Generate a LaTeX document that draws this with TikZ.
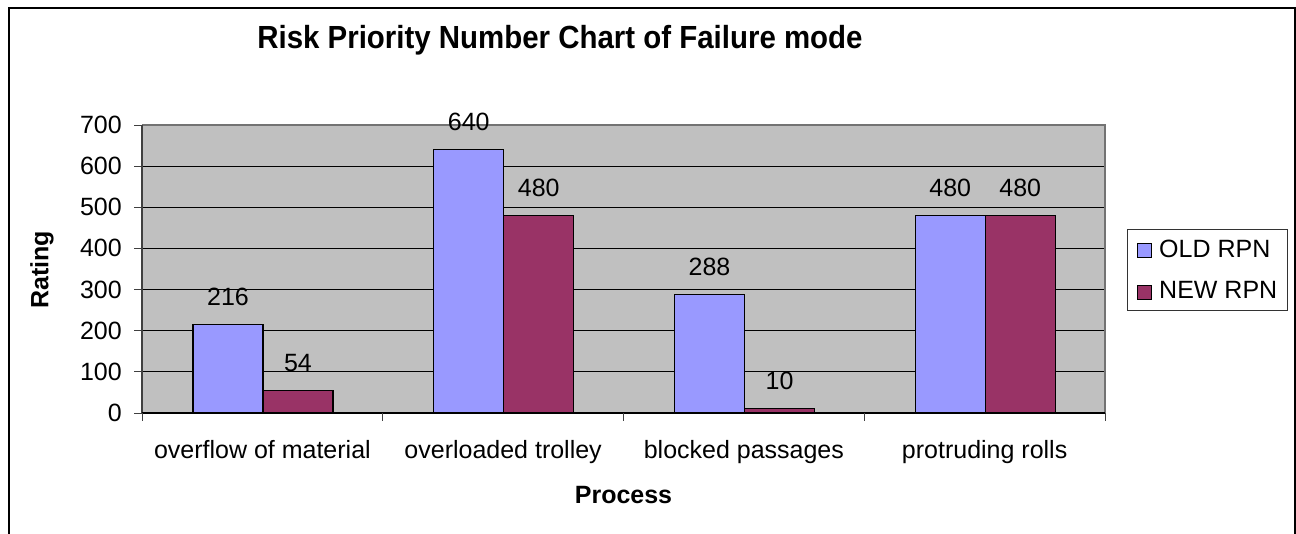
\documentclass[tikz,border=0pt]{standalone}
\usepackage{fontspec}
\setmainfont{Liberation Sans}
\usetikzlibrary{calc}

\definecolor{oldrpn}{HTML}{9999FF}
\definecolor{newrpn}{HTML}{993366}
\definecolor{plotbg}{HTML}{C0C0C0}

\begin{document}
\begin{tikzpicture}[x=1pt,y=-1pt,
		txt/.style={font=\fontsize{25}{30}\selectfont, inner sep=0pt},
		axtitle/.style={font=\fontsize{25}{30}\selectfont\bfseries, inner sep=0pt},
		bar/.style={draw=black, line width=1.2pt},
		grid line/.style={black, line width=0.9pt}]
		\useasboundingbox (0,0) rectangle (1296,533);
		% outer frame
		\draw[line width=1.6pt] (9,8) rectangle (1295,560);
		% plot area
		\fill[plotbg] (142,125) rectangle (1105,413);
		\foreach \v in {100,200,...,600}
			\draw[grid line] (142,{413-0.411429*\v}) -- (1105,{413-0.411429*\v});
		\draw[gray!90!black, line width=1.2pt] (142,125) -- (1105,125) -- (1105,413);
		\draw[black!75, line width=1.4pt] (142,125) -- (142,413);
		% y ticks
		\foreach \v in {0,100,...,700} {
			\draw[black!75, line width=1pt] (134,{413-0.411429*\v}) -- (142,{413-0.411429*\v});
			\node[txt, anchor=base east] (tick\v) at (122,{421.5-0.411429*\v}) {\v};
		}
		% bars
		\foreach \i/\o/\n in {0/216/54, 1/640/480, 2/288/10, 3/480/480} {
			\coordinate (g\i) at ({142+240.75*\i+51},413);
			\filldraw[bar, fill=oldrpn] (g\i) rectangle ++(70,{-0.411429*\o});
			\filldraw[bar, fill=newrpn] ($(g\i)+(70,0)$) rectangle ++(70,{-0.411429*\n});
			\node[txt, anchor=base] (old\i) at ($(g\i)+(35,{-0.411429*\o-19})$) {\o};
			\node[txt, anchor=base] (new\i) at ($(g\i)+(105,{-0.411429*\n-19})$) {\n};
		}
		% x axis and ticks
		\draw[black, line width=1.2pt] (142,413) -- (1105,413);
		\foreach \k in {0,...,4}
			\draw[black!75, line width=1pt] ({142+240.75*\k},413) -- ({142+240.75*\k},421);
		\foreach \i/\t in {0/overflow of material, 1/overloaded trolley, 2/blocked passages, 3/protruding rolls}
			\node[txt, anchor=base] (cat\i) at ({142+240.75*(\i+0.5)},458) {\t};
		% titles
		\node[font=\fontsize{32}{36}\selectfont\bfseries, xscale=0.92, inner sep=0pt] (title) at (560,40) {Risk Priority Number Chart of Failure mode};
		\node[axtitle, rotate=90] (rating) at (42,270) {Rating};
		\node[axtitle] (process) at (623.5,495) {Process};
		% legend
		\draw[black!80, line width=0.8pt] (1127,229) rectangle (1287,310);
		\filldraw[draw=black, line width=1pt, fill=oldrpn] (1137,243) rectangle (1151,257);
		\filldraw[draw=black, line width=1pt, fill=newrpn] (1137,285) rectangle (1151,299);
		\node[txt, anchor=base west] (oldkey) at (1159,257) {OLD RPN};
		\node[txt, anchor=base west] (newkey) at (1159,298) {NEW RPN};
	\end{tikzpicture}
\end{document}
